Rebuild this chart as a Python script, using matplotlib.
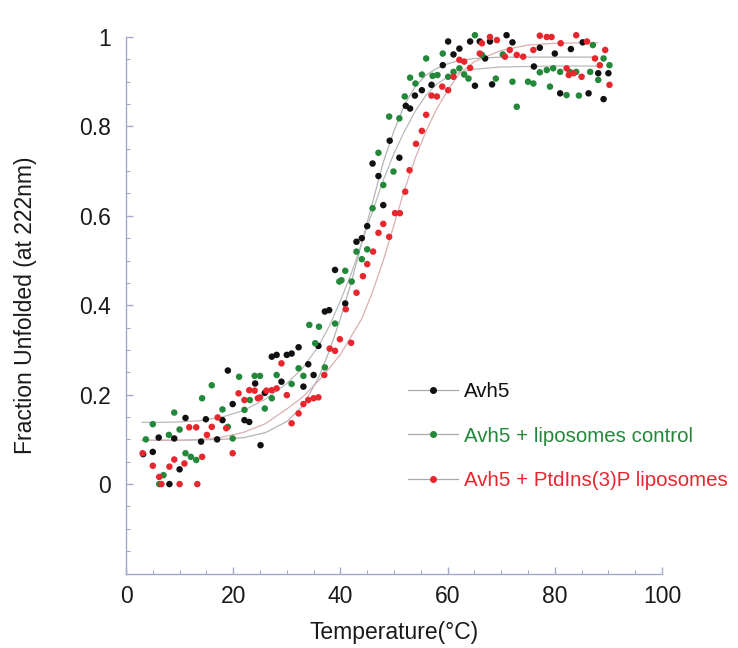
import matplotlib
matplotlib.use("Agg")
import matplotlib.pyplot as plt
from matplotlib.lines import Line2D
from matplotlib.ticker import MultipleLocator
import numpy as np

plt.rcParams['font.family'] = ['Liberation Sans', 'DejaVu Sans']

# ---- data ----
avh5_T = [3.2, 5.0, 6.1, 8.1, 9.0, 10.0, 11.1, 14.0, 14.9, 17.0, 18.0, 19.0, 19.9, 22.1, 23.0,
          24.1, 25.1, 25.9, 27.2, 28.1, 29.0, 30.0, 30.9, 32.2, 33.1, 34.0, 35.0, 35.9, 37.1,
          37.9, 39.0, 40.9, 43.0, 44.0, 45.0, 46.0, 47.1, 48.0, 49.2, 51.0, 52.2, 53.0, 53.9,
          55.2, 57.0, 59.1, 60.1, 61.1, 62.2, 64.2, 65.1, 66.0, 67.0, 67.9, 68.3, 71.0, 72.1,
          76.1, 77.2, 80.0, 81.0, 83.0, 85.2, 86.3, 88.1, 89.1, 90.0]
avh5_F = [0.067, 0.072, 0.104, 0.000, 0.102, 0.033, 0.148, 0.095, 0.145, 0.100, 0.143, 0.254, 0.179, 0.143, 0.139,
          0.225, 0.087, 0.204, 0.285, 0.289, 0.229, 0.289, 0.292, 0.306, 0.218, 0.268, 0.244, 0.309, 0.386,
          0.389, 0.479, 0.404, 0.542, 0.550, 0.577, 0.717, 0.689, 0.624, 0.768, 0.730, 0.846, 0.840, 0.869,
          0.881, 0.893, 0.937, 0.990, 0.961, 0.974, 0.990, 0.891, 0.990, 0.952, 0.990, 0.894, 1.004, 0.988,
          0.934, 0.976, 0.963, 0.874, 0.973, 0.988, 0.874, 0.919, 0.861, 0.919]

ctrl_T = [3.7, 5.0, 6.2, 7.0, 8.0, 9.0, 10.0, 11.1, 12.1, 13.1, 14.2, 16.0, 18.0, 19.0, 19.9,
          21.1, 22.1, 23.1, 24.0, 25.0, 25.9, 27.2, 28.1, 30.9, 32.2, 33.1, 34.2, 35.3, 36.0,
          37.1, 39.0, 39.8, 40.2, 40.9, 42.1, 43.0, 44.0, 45.0, 46.0, 47.1, 48.0, 49.1, 49.9,
          51.0, 52.0, 53.0, 54.0, 55.2, 56.0, 57.2, 58.1, 59.1, 60.1, 61.1, 62.2, 63.1, 63.9,
          65.1, 66.4, 69.0, 70.3, 72.1, 72.9, 75.0, 76.0, 77.2, 78.5, 79.1, 79.7, 81.0, 82.2,
          82.8, 84.0, 84.5, 86.6, 87.1, 88.1, 89.1, 90.2]
ctrl_F = [0.100, 0.134, 0.000, 0.020, 0.110, 0.160, 0.122, 0.069, 0.061, 0.054, 0.192, 0.221, 0.167, 0.128, 0.102,
          0.240, 0.166, 0.188, 0.242, 0.242, 0.169, 0.192, 0.244, 0.224, 0.259, 0.242, 0.356, 0.315, 0.352,
          0.261, 0.359, 0.453, 0.456, 0.477, 0.453, 0.520, 0.503, 0.525, 0.617, 0.741, 0.669, 0.822, 0.699,
          0.818, 0.867, 0.909, 0.896, 0.916, 0.952, 0.913, 0.915, 0.963, 0.911, 0.922, 0.930, 0.916, 0.907,
          1.004, 0.960, 0.907, 0.961, 0.900, 0.844, 0.900, 0.896, 0.921, 0.926, 0.889, 0.930, 0.922, 0.870,
          0.922, 0.922, 0.869, 0.922, 0.982, 0.904, 0.952, 0.937]

pi3p_T = [3.1, 5.0, 6.2, 6.6, 8.1, 9.0, 10.0, 10.9, 11.8, 13.1, 13.3, 14.2, 15.1, 16.0, 17.1,
          18.7, 19.9, 21.0, 22.1, 23.0, 24.0, 24.6, 25.0, 26.2, 27.2, 28.1, 29.0, 30.0, 30.9,
          32.2, 33.1, 34.0, 35.0, 35.9, 37.0, 38.0, 39.0, 39.9, 41.0, 42.0, 43.0, 44.2, 45.0,
          46.1, 47.1, 48.0, 49.1, 50.2, 51.1, 52.1, 52.9, 54.1, 55.2, 56.0, 57.0, 58.0, 59.0,
          60.1, 61.1, 62.2, 63.1, 64.2, 66.0, 66.4, 67.9, 69.2, 70.7, 71.6, 72.9, 74.1, 76.0,
          77.2, 78.5, 79.4, 81.1, 82.2, 82.6, 83.5, 84.0, 85.0, 86.0, 87.5, 88.4, 89.4, 90.2]
pi3p_F = [0.069, 0.041, 0.016, 0.000, 0.039, 0.055, 0.000, 0.046, 0.127, 0.127, 0.000, 0.061, 0.110, 0.128, 0.149,
          0.125, 0.069, 0.203, 0.188, 0.210, 0.209, 0.192, 0.194, 0.209, 0.210, 0.214, 0.270, 0.199, 0.136,
          0.158, 0.179, 0.188, 0.192, 0.194, 0.244, 0.303, 0.298, 0.324, 0.391, 0.316, 0.428, 0.465, 0.492,
          0.520, 0.562, 0.582, 0.553, 0.606, 0.606, 0.654, 0.702, 0.761, 0.790, 0.826, 0.869, 0.867, 0.889,
          0.881, 0.911, 0.949, 0.945, 0.931, 0.963, 0.986, 1.000, 0.993, 0.956, 0.971, 0.960, 0.956, 0.971,
          1.003, 1.000, 1.000, 0.986, 0.930, 0.915, 0.919, 1.004, 0.911, 0.990, 0.952, 0.937, 0.971, 0.893]

# fitted curves
fit_T = [3, 6, 10, 14, 18, 22, 26, 30, 33, 36, 38, 40, 42, 44, 46, 48, 50, 52, 54, 56, 58, 60,
         62, 65, 70, 75, 80, 85, 88]
fit_avh5 = [0.098, 0.098, 0.098, 0.099, 0.100, 0.104, 0.115, 0.140, 0.175, 0.240, 0.300, 0.370,
            0.450, 0.540, 0.630, 0.720, 0.790, 0.850, 0.890, 0.915, 0.930, 0.940, 0.947, 0.952,
            0.955, 0.955, 0.955, 0.955, 0.955]
fit_ctrl = [0.138, 0.138, 0.139, 0.142, 0.150, 0.165, 0.190, 0.225, 0.260, 0.310, 0.355, 0.410,
            0.470, 0.540, 0.610, 0.680, 0.740, 0.790, 0.835, 0.870, 0.895, 0.910, 0.920, 0.928,
            0.933, 0.934, 0.935, 0.935, 0.935]
fit_pi3p = [0.098, 0.098, 0.098, 0.100, 0.105, 0.116, 0.135, 0.168, 0.195, 0.232, 0.260, 0.290,
            0.330, 0.370, 0.430, 0.500, 0.580, 0.660, 0.730, 0.790, 0.840, 0.880, 0.915, 0.945,
            0.970, 0.982, 0.986, 0.987, 0.987]

labels = ["Avh5", "Avh5 + liposomes control", "Avh5 + PtdIns(3)P liposomes"]
colors = ["#111111", "#23883a", "#e8262e"]
fit_colors = ["#b4b4b4", "#b8bcb8", "#d9b0b0"]

x_ticks = [0, 20, 40, 60, 80, 100]
y_ticks = [0, 0.2, 0.4, 0.6, 0.8, 1]
y_ticklabels = ["0", "0.2", "0.4", "0.6", "0.8", "1"]

# ---- figure ----
fig = plt.figure(figsize=(7.38, 6.48), dpi=100)
ax = fig.add_axes([126 / 738, 1 - 573.5 / 648, 536 / 738, 536.5 / 648])

for fy, fc in zip([fit_avh5, fit_ctrl, fit_pi3p], fit_colors):
    ax.plot(fit_T, fy, color=fc, lw=0.9, zorder=2)

for (tx, fy), c in zip([(avh5_T, avh5_F), (ctrl_T, ctrl_F), (pi3p_T, pi3p_F)], colors):
    ax.scatter(tx, fy, s=22, color=c, edgecolors='none', zorder=3, clip_on=False)

ax.set_xlim(0, 100)
ax.set_ylim(-0.2, 1.0)
axis_col = "#a4a8cc"
for s in ["top", "right"]:
    ax.spines[s].set_visible(False)
for s in ["left", "bottom"]:
    ax.spines[s].set_color(axis_col)
    ax.spines[s].set_linewidth(1.0)

ax.set_xticks(x_ticks)
ax.set_yticks(y_ticks)
ax.set_yticklabels(y_ticklabels)
ax.xaxis.set_minor_locator(MultipleLocator(5))
ax.yaxis.set_minor_locator(MultipleLocator(0.05))
ax.tick_params(which='both', direction='in', color=axis_col, labelcolor="#1a1a1a", labelsize=16.5)
ax.tick_params(which='major', length=5, width=1.0)
ax.tick_params(which='minor', length=3, width=0.8)
ax.tick_params(axis='y', which='major', pad=11)
ax.tick_params(axis='x', which='major', pad=8)

ax.set_xlabel("Temperature(°C)", fontsize=16.5, color="#1a1a1a", labelpad=10)
ax.set_ylabel("Fraction Unfolded (at 222nm)", fontsize=16.5, color="#1a1a1a", labelpad=30)

handles = [Line2D([], [], color="#aaaaaa", lw=0.9, marker='o', markersize=4,
                  markerfacecolor=c, markeredgecolor=c) for c in colors]
leg = fig.legend(handles, labels, loc='upper left', bbox_to_anchor=(408 / 738, 1 - 382 / 648),
                 frameon=False, fontsize=14.8, handlelength=2.45, handletextpad=0.28,
                 labelspacing=1.25, borderpad=0, borderaxespad=0, labelcolor=colors)

fig.savefig("out.png", dpi=100)
